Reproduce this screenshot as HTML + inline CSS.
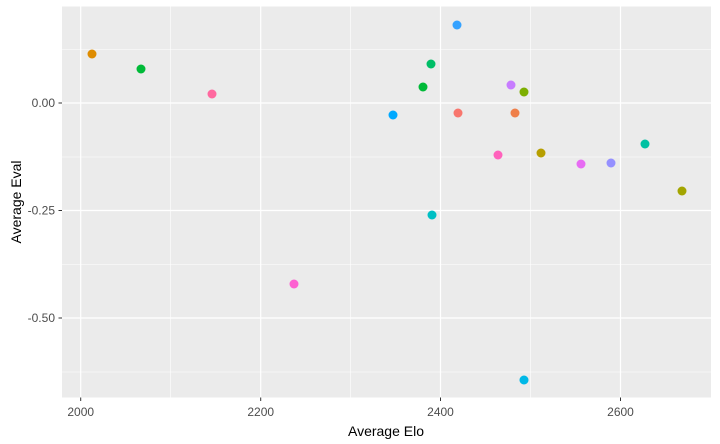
<!DOCTYPE html>
<html><head><style>body{margin:0;background:#fff}svg{display:block}</style></head><body>
<svg width="720" height="444" xmlns="http://www.w3.org/2000/svg" font-family="Liberation Sans, sans-serif">
<rect x="62" y="6.5" width="649" height="391" fill="#EBEBEB"/>
<g stroke="#fff" stroke-width="0.6">
<line x1="62" x2="711" y1="49.5" y2="49.5"/><line x1="62" x2="711" y1="157" y2="157"/><line x1="62" x2="711" y1="264.5" y2="264.5"/><line x1="62" x2="711" y1="372" y2="372"/>
<line y1="6.5" y2="397.5" x1="170.7" x2="170.7"/><line y1="6.5" y2="397.5" x1="350.6" x2="350.6"/><line y1="6.5" y2="397.5" x1="530.5" x2="530.5"/>
</g>
<g stroke="#fff" stroke-width="1.2">
<line x1="62" x2="711" y1="103" y2="103"/><line x1="62" x2="711" y1="210.5" y2="210.5"/><line x1="62" x2="711" y1="318" y2="318"/>
<line y1="6.5" y2="397.5" x1="80.7" x2="80.7"/><line y1="6.5" y2="397.5" x1="260.7" x2="260.7"/><line y1="6.5" y2="397.5" x1="440.5" x2="440.5"/><line y1="6.5" y2="397.5" x1="620.5" x2="620.5"/>
</g>
<g stroke="#333" stroke-width="1">
<line x1="58.5" x2="62" y1="103" y2="103"/><line x1="58.5" x2="62" y1="210.5" y2="210.5"/><line x1="58.5" x2="62" y1="318" y2="318"/>
<line y1="397.5" y2="401" x1="80.7" x2="80.7"/><line y1="397.5" y2="401" x1="260.7" x2="260.7"/><line y1="397.5" y2="401" x1="440.5" x2="440.5"/><line y1="397.5" y2="401" x1="620.5" x2="620.5"/>
</g>
<g font-size="12" fill="#4D4D4D">
<text x="55" y="107" text-anchor="end">0.00</text><text x="55" y="214.5" text-anchor="end">-0.25</text><text x="55" y="322" text-anchor="end">-0.50</text>
<text x="80.7" y="416" text-anchor="middle">2000</text><text x="260.7" y="416" text-anchor="middle">2200</text><text x="440.5" y="416" text-anchor="middle">2400</text><text x="620.5" y="416" text-anchor="middle">2600</text>
</g>
<text x="386" y="436" font-size="14" text-anchor="middle">Average Elo</text>
<text transform="translate(21,202) rotate(-90)" font-size="14" text-anchor="middle">Average Eval</text>
<g>
<circle cx="92" cy="54" r="4.5" fill="#DE8C00"/>
<circle cx="141" cy="69" r="4.5" fill="#00BA38"/>
<circle cx="212" cy="94" r="4.5" fill="#FF689F"/>
<circle cx="294" cy="284" r="4.5" fill="#FD61D1"/>
<circle cx="393" cy="115" r="4.5" fill="#00A9FF"/>
<circle cx="423" cy="87" r="4.5" fill="#00BA38"/>
<circle cx="431" cy="64" r="4.5" fill="#00BE67"/>
<circle cx="432" cy="215" r="4.5" fill="#00BFC4"/>
<circle cx="457" cy="25" r="4.5" fill="#35A2FF"/>
<circle cx="458" cy="113" r="4.5" fill="#F8766D"/>
<circle cx="511" cy="85" r="4.5" fill="#C77CFF"/>
<circle cx="498" cy="155" r="4.5" fill="#FF62BC"/>
<circle cx="524" cy="92" r="4.5" fill="#7CAE00"/>
<circle cx="524" cy="380" r="4.5" fill="#00B8E7"/>
<circle cx="515" cy="113" r="4.5" fill="#EF7F49"/>
<circle cx="541" cy="153" r="4.5" fill="#B79F00"/>
<circle cx="581" cy="164" r="4.5" fill="#E76BF3"/>
<circle cx="611" cy="163" r="4.5" fill="#9590FF"/>
<circle cx="645" cy="144" r="4.5" fill="#00C1A3"/>
<circle cx="682" cy="191" r="4.5" fill="#A3A500"/>
</g>
</svg>
</body></html>
